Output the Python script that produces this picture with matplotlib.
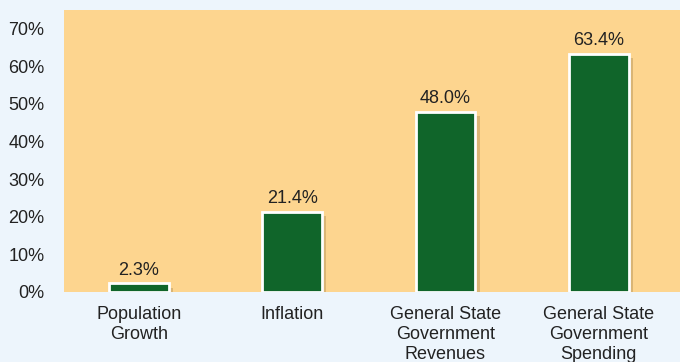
import matplotlib
matplotlib.use("Agg")
import matplotlib.pyplot as plt
import matplotlib.patheffects as pe

categories = ["Population\nGrowth", "Inflation", "General State\nGovernment\nRevenues", "General State\nGovernment\nSpending"]
values = [2.3, 21.4, 48.0, 63.4]
labels = ["2.3%", "21.4%", "48.0%", "63.4%"]
yticks = [0, 10, 20, 30, 40, 50, 60, 70]
ytick_labels = ["0%", "10%", "20%", "30%", "40%", "50%", "60%", "70%"]

plt.rcParams['font.family'] = ['Liberation Sans', 'DejaVu Sans']

fig = plt.figure(figsize=(6.8, 3.62), dpi=100, facecolor="#EDF5FC")
ax = fig.add_axes([64/680, 70/362, 616/680, 282/362])
ax.set_facecolor("#FDD58F")

x = list(range(len(values)))
bars = ax.bar(x, values, width=0.39, color="#10652A", edgecolor="white", linewidth=2, zorder=3)
for b in bars:
    b.set_path_effects([pe.SimplePatchShadow(offset=(3, -3), shadow_rgbFace="#8a6d3b", alpha=0.3), pe.Normal()])

for xi, v, lab in zip(x, values, labels):
    ax.annotate(lab, (xi, v), xytext=(0, 3), textcoords="offset points",
                ha="center", va="bottom", fontsize=13, color="#222222")

ax.set_xlim(-0.489, 3.53)
ax.set_ylim(0, 75)
ax.set_yticks(yticks)
ax.set_yticklabels(ytick_labels, fontsize=13, color="#222222")
ax.set_xticks(x)
ax.set_xticklabels(categories, fontsize=13, color="#222222", linespacing=1.22)
ax.tick_params(axis="both", length=0)
ax.tick_params(axis="y", pad=14)
ax.tick_params(axis="x", pad=10)
for s in ax.spines.values():
    s.set_visible(False)

fig.savefig("out.png", dpi=100, facecolor=fig.get_facecolor())
